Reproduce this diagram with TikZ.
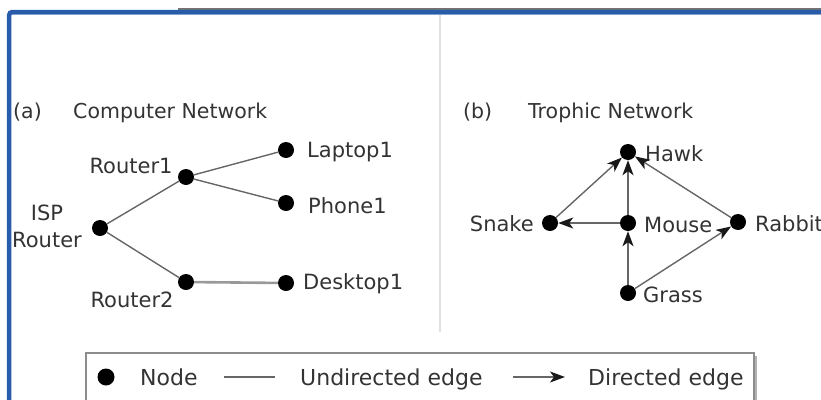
\documentclass[tikz,border=0pt]{standalone}
\usepackage{fontspec}
\setmainfont{DejaVu Sans}
\usetikzlibrary{arrows.meta}
\definecolor{frameblue}{RGB}{40,92,170}
\definecolor{txt}{RGB}{51,51,51}
\begin{document}
\begin{tikzpicture}[x=1pt, y=-1pt,
        dot/.style={circle, fill=black, minimum size=16pt, inner sep=0pt},
        lbl/.style={text=txt, font=\fontsize{21}{27}\selectfont, inner sep=0pt},
        ttl/.style={text=txt, font=\fontsize{20.5}{25}\selectfont, inner sep=0pt},
        leg/.style={text=txt, font=\fontsize{22}{27}\selectfont, inner sep=0pt},
        uedge/.style={draw=black!60, line width=1.4pt},
        dedge/.style={draw=black!60, line width=1.4pt, -{Stealth[length=15pt, width=11pt, inset=4pt, color=black!90]}}]
        \useasboundingbox (0,0) rectangle (821,399);

        % Frame
        \fill[black!55] (178,8.3) rectangle (821,10.3);
        \draw[frameblue!35, line width=1pt] (11.5,14.6) -- (821,14.6);
        \draw[frameblue, line width=4.5pt, rounded corners=3pt] (9.2,405) -- (9.2,12) -- (821,12);
        \draw[black!12, line width=2pt] (440,15) -- (440,332);

        % (a) Computer network
        \node[ttl, anchor=base west] (ta) at (13,118) {(a)};
        \node[ttl, anchor=base west] (tan) at (73,118) {Computer Network};

        \node[dot] at (100, 228)  (isp)     {};
        \node[dot] at (186, 177)  (r1)      {};
        \node[dot] at (186, 282)  (r2)      {};
        \node[dot] at (286, 150)  (laptop)  {};
        \node[dot] at (286, 203)  (phone)   {};
        \node[dot] at (286, 283)  (desktop) {};

        \node[lbl, align=center] at (47, 226) (isp-t) {ISP\\Router};
        \node[lbl, anchor=base] at (131, 173) (r1-t) {Router1};
        \node[lbl, anchor=base] at (132, 307) (r2-t) {Router2};
        \node[lbl, anchor=base west] at (307, 157) (laptop-t) {Laptop1};
        \node[lbl, anchor=base west] at (308, 213) (phone-t) {Phone1};
        \node[lbl, anchor=base west] at (303, 289) (desktop-t) {Desktop1};

        \draw[uedge] (isp) -- (r1);
        \draw[uedge] (isp) -- (r2);
        \draw[uedge] (r1) -- (laptop);
        \draw[uedge] (r1) -- (phone);
        \draw[uedge, draw=black!40, line width=2.6pt] (r2) -- (desktop);

        % (b) Trophic network
        \node[ttl, anchor=base west] (tb) at (463,118) {(b)};
        \node[ttl, anchor=base west] (tbn) at (528,118) {Trophic Network};

        \node[dot] at (628, 152)  (hawk)   {};
        \node[dot] at (550, 223)  (snake)  {};
        \node[dot] at (628, 223)  (mouse)  {};
        \node[dot] at (738, 222)  (rabbit) {};
        \node[dot] at (628, 293)  (grass)  {};

        \node[lbl, anchor=base west] at (645, 161) (hawk-t) {Hawk};
        \node[lbl, anchor=base east] at (534, 231) (snake-t) {Snake};
        \node[lbl, anchor=base west] at (644, 232) (mouse-t) {Mouse};
        \node[lbl, anchor=base west] at (755, 231) (rabbit-t) {Rabbit};
        \node[lbl, anchor=base west] at (643, 302) (grass-t) {Grass};

        \draw[dedge] (snake) -- (hawk);
        \draw[dedge] (mouse) -- (hawk);
        \draw[dedge] (rabbit) -- (hawk);
        \draw[dedge, line width=2pt] (mouse) -- (snake);
        \draw[dedge] (grass) -- (mouse);
        \draw[dedge] (grass) -- (rabbit);

        % Legend
        \draw[black!30, line width=2pt] (756,356) -- (756,420);
        \draw[black!45, line width=1.4pt] (86,353) rectangle (754,420);
        \node[dot, minimum size=17pt] at (106, 377) (leg-dot) {};
        \node[leg, anchor=base west] at (140, 385) (leg-node) {Node};
        \coordinate (u1) at (224, 377);
        \coordinate (u2) at (275, 377);
        \draw[uedge] (u1) -- (u2);
        \node[leg, anchor=base west] at (300, 385) (leg-u) {Undirected edge};
        \coordinate (d1) at (513, 377);
        \coordinate (d2) at (565, 377);
        \draw[dedge] (d1) -- (d2);
        \node[leg, anchor=base west] at (588, 385) (leg-d) {Directed edge};
    \end{tikzpicture}
\end{document}
